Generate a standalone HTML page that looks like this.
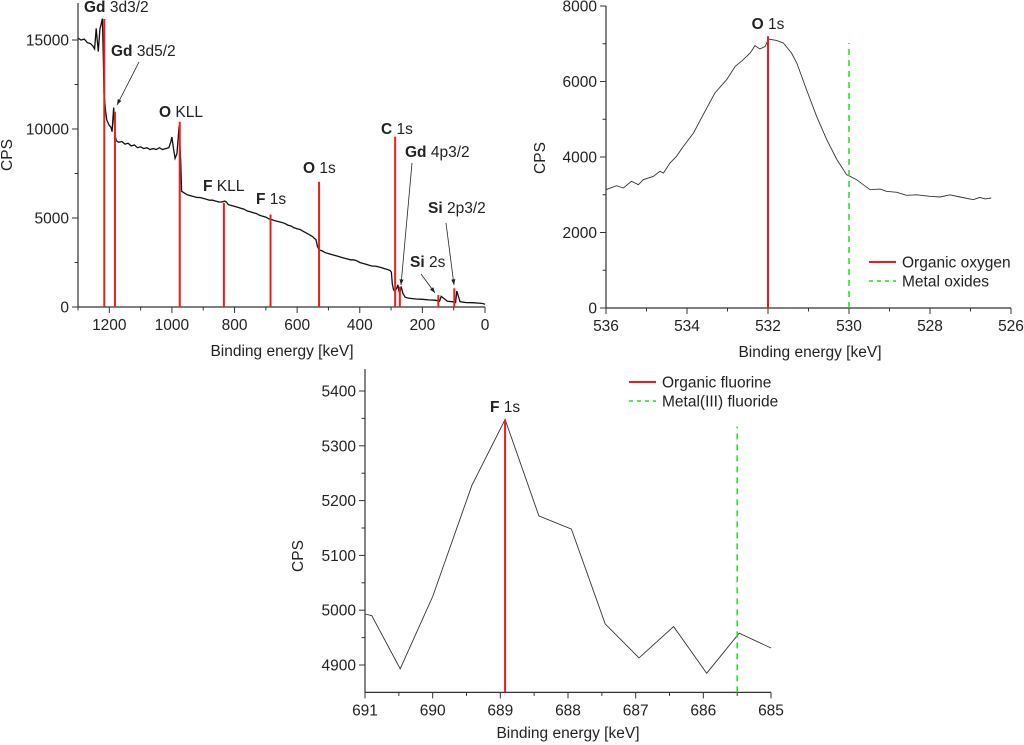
<!DOCTYPE html>
<html><head><meta charset="utf-8">
<style>
html,body{margin:0;padding:0;background:#fff;}
svg{display:block;font-family:"Liberation Sans",Arial,sans-serif;}
text{fill:#222;}
</style></head>
<body>
<svg id="fig" width="1024" height="745" viewBox="0 0 1024 745" xmlns="http://www.w3.org/2000/svg"></svg>
<script>
// ---------- Chart 1: survey spectrum ----------
const surveyBE = [1300,1290,1280,1270,1260,1252,1247,1242,1238,1235,1230,1226,1222,1219,1217,1212,1208,1200,1195,1191,1189,1186,1182,1178,1170,1160,1150,1140,1130,1120,1110,1100,1090,1080,1070,1060,1050,1040,1030,1020,1010,1004,1000,995,990,984,977,972,969,960,950,940,930,920,910,900,890,880,870,860,850,840,832,826,820,810,800,790,780,770,760,750,740,730,720,710,700,690,680,670,660,650,640,630,620,610,600,590,580,570,560,550,545,540,535,530,520,510,500,490,480,470,460,450,440,430,420,410,400,390,380,370,360,350,340,330,320,310,303,299,296,292,288,282,278,275,272,268,262,255,245,235,220,200,180,160,150,145,140,120,105,100,97,94,90,80,60,40,20,10,5,0];
const surveyCPS = [15100,15000,15050,14850,14800,14650,14500,15650,14900,14350,15600,15900,16200,13800,12000,11000,10500,10200,10100,9850,10500,11200,9700,9350,9250,9300,9150,9200,9050,9100,8950,9000,8900,8950,8850,8900,8850,8950,8850,8900,8950,9250,9550,8900,8350,8600,10150,8200,6500,6400,6300,6250,6200,6150,6150,6100,6050,6000,6000,5950,5900,5900,5950,5900,5750,5700,5650,5600,5550,5500,5400,5350,5300,5250,5150,5100,5050,4950,4900,4850,4800,4750,4700,4600,4550,4450,4400,4350,4250,4150,4050,3950,3850,3800,3400,3200,3150,3050,3000,2950,2900,2850,2800,2750,2700,2650,2650,2600,2500,2450,2400,2350,2300,2300,2250,2200,2150,2100,2050,1950,1300,950,900,1050,1250,900,750,1150,750,550,500,480,450,430,400,380,350,330,600,320,300,280,260,250,900,300,250,240,220,200,180,160,120,50];
const peakBE  = [1216,1182,975,834,685,530,287,272,149,98];
const peakCPS = [16180,10970,10410,5850,5200,7040,9570,1140,670,1050];
const peakEl  = ["Gd","Gd","O","F","F","O","C","Gd","Si","Si"];
const peakOrb = ["3d3/2","3d5/2","KLL","KLL","1s","1s","1s","4p3/2","2s","2p3/2"];
const surveyXTicks = [1200,1000,800,600,400,200,0];
const surveyYTicks = [0,5000,10000,15000];

// ---------- Chart 2: O 1s ----------
const oBE  = [536,535.74,535.57,535.37,535.2,535.08,534.83,534.67,534.58,534.42,534.26,534.09,533.84,533.6,533.31,533.02,532.81,532.61,532.44,532.32,532.2,532.07,531.99,531.79,531.62,531.42,531.29,531.05,530.8,530.55,530.3,530.06,529.81,529.65,529.48,529.23,529.07,528.82,528.58,528.33,528.0,527.75,527.51,527.26,526.93,526.77,526.64,526.49];
const oCPS = [3135,3240,3180,3355,3267,3400,3488,3620,3575,3840,4018,4282,4636,5120,5695,6050,6400,6580,6755,6950,6860,6930,7125,7090,7020,6755,6490,5785,5077,4460,3930,3530,3400,3267,3135,3150,3090,3064,2985,3000,2960,2940,3000,2940,2870,2930,2890,2915];
const oRef = {organic:[532,7200], metal:[530,7020]};
const oXTicks = [536,534,532,530,528,526];
const oYTicks = [0,2000,4000,6000,8000];

// ---------- Chart 3: F 1s ----------
const fBE  = [691,690.9,690.48,690,689.42,688.93,688.43,687.95,687.45,686.95,686.44,685.95,685.47,685];
const fCPS = [4993,4990,4893,5025,5228,5348,5172,5148,4975,4913,4970,4885,4958,4931];
const fRef = {organic:[688.93,5348], metal:[685.5,5335]};
const fXTicks = [691,690,689,688,687,686,685];
const fYTicks = [4900,5000,5100,5200,5300,5400];

const FS=15.5;
const NS="http://www.w3.org/2000/svg";
const svg=document.getElementById('fig');
function mk(tag,attrs,parent){const e=document.createElementNS(NS,tag);for(const k in attrs)e.setAttribute(k,attrs[k]);(parent||svg).appendChild(e);return e;}
function lin(d0,d1,r0,r1){return v=>r0+(v-d0)/(d1-d0)*(r1-r0);}

function axes(g,X,Y,x0,x1,y0,y1,xt,xminor,yt,yminor){
  const ax=mk('line',{x1:x0,y1:y0,x2:x0,y2:y1,stroke:'#333','stroke-width':1.2},g);
  
  const bx=mk('line',{x1:x0,y1:y0,x2:x1,y2:y0,stroke:'#333','stroke-width':1.2},g);
  
  xt.forEach(v=>{const x=X(v);mk('line',{x1:x,y1:y0,x2:x,y2:y0+6,stroke:'#333'},g);
    const t=mk('text',{x:x,y:y0+23,'text-anchor':'middle','font-size':FS},g);t.textContent=v;
    });
  xminor.forEach(v=>{const x=X(v);mk('line',{x1:x,y1:y0,x2:x,y2:y0+3.5,stroke:'#333'},g);});
  yt.forEach(v=>{const y=Y(v);mk('line',{x1:x0-6,y1:y,x2:x0,y2:y,stroke:'#333'},g);
    const t=mk('text',{x:x0-9,y:y+5.5,'text-anchor':'end','font-size':FS},g);t.textContent=v;
    });
  yminor.forEach(v=>{const y=Y(v);mk('line',{x1:x0-3.5,y1:y,x2:x0,y2:y,stroke:'#333'},g);});
}
function titles(g,cx,ty,lx,ly){
  const t=mk('text',{x:cx,y:ty,'text-anchor':'middle','font-size':FS},g);t.textContent='Binding energy [keV]';
  
  const c=mk('text',{x:lx,y:ly,'text-anchor':'middle','font-size':FS,transform:`rotate(-90 ${lx} ${ly})`},g);c.textContent='CPS';
  
}
function pathOf(xs,ys,X,Y){return xs.map((v,i)=>(i?'L':'M')+X(v).toFixed(1)+','+Y(ys[i]).toFixed(1)).join(' ');}
function label(g,x,y,el,orb,anchor){
  const t=mk('text',{x:x,y:y,'font-size':FS,'text-anchor':anchor||'start'},g);
  const b=mk('tspan',{'font-weight':'bold'},t);b.textContent=el;
  const r=mk('tspan',{},t);r.textContent=' '+orb;
  
}
function legend(g,x,y,items){
  items.forEach((it,i)=>{const yy=y+i*19;
    mk('line',{x1:x,y1:yy,x2:x+27,y2:yy,stroke:it.c,'stroke-width':it.d?1.5:2,'stroke-dasharray':it.d?'4,4':''},g);
    const t=mk('text',{x:x+33,y:yy+5.5,'font-size':FS},g);t.textContent=it.t;
    });
}

// Chart 1
(function(){
  const g=mk('g',{});
  const X=lin(1300,0,78,485), Y=lin(0,15000,307,40);
  axes(g,X,Y,78,485,307,3,surveyXTicks,[1300,1100,900,700,500,300,100],surveyYTicks,[2500,7500,12500]);
  titles(g,282,356,12,155);
  const p=mk('path',{d:pathOf(surveyBE,surveyCPS,X,Y),fill:'none',stroke:'#111','stroke-width':1.3},g);
  
  peakBE.forEach((b,i)=>{const l=mk('line',{x1:X(b),y1:Y(0),x2:X(b),y2:Y(peakCPS[i]),stroke:'#ee1c1c','stroke-width':2},g);
    });
  const lp=[[84,12],[111,56],[159,117],[203,191],[256,204],[303,173],[381,134],[405,157],[410,267],[428,213]];
  lp.forEach((p,i)=>label(g,p[0],p[1],peakEl[i],peakOrb[i]));
  const arr=[[139,62,117,105],[412,163,401,285],[421,274,435,293],[446,223,454,285]];
  arr.forEach(a=>{mk('line',{x1:a[0],y1:a[1],x2:a[2],y2:a[3],stroke:'#222','stroke-width':0.8},g);
    const ang=Math.atan2(a[3]-a[1],a[2]-a[0]);const s=6,w=0.35;
    mk('polygon',{points:`${a[2]},${a[3]} ${a[2]-s*Math.cos(ang-w)},${a[3]-s*Math.sin(ang-w)} ${a[2]-s*Math.cos(ang+w)},${a[3]-s*Math.sin(ang+w)}`,fill:'#222'},g);});
})();

// Chart 2
(function(){
  const g=mk('g',{});
  const X=lin(536,526,606,1011), Y=lin(0,8000,308,6);
  axes(g,X,Y,606,1011,308,6,oXTicks,[535,533,531,529,527],oYTicks,[1000,3000,5000,7000]);
  titles(g,810,357,545,158);
  const p=mk('path',{d:pathOf(oBE,oCPS,X,Y),fill:'none',stroke:'#333','stroke-width':0.9},g);
  
  const r=mk('line',{x1:X(oRef.organic[0]),y1:Y(0),x2:X(oRef.organic[0]),y2:Y(oRef.organic[1]),stroke:'#ee1c1c','stroke-width':2},g);
  
  const gr=mk('line',{x1:X(oRef.metal[0]),y1:Y(0),x2:X(oRef.metal[0]),y2:Y(oRef.metal[1]),stroke:'#22dd22','stroke-width':1.5,'stroke-dasharray':'6,5'},g);
  
  label(g,X(oRef.organic[0]),29,'O','1s','middle');
  legend(g,869,262,[{c:'#ee1c1c',t:'Organic oxygen'},{c:'#22dd22',t:'Metal oxides',d:1}]);
})();

// Chart 3
(function(){
  const g=mk('g',{});
  const X=lin(691,685,365,771), Y=lin(4900,5400,665,391);
  axes(g,X,Y,365,771,Y(4850),Y(5440),fXTicks,[690.5,689.5,688.5,687.5,686.5,685.5],fYTicks,[4950,5050,5150,5250,5350]);
  titles(g,568,738,303,556);
  const p=mk('path',{d:pathOf(fBE,fCPS,X,Y),fill:'none',stroke:'#333','stroke-width':0.9},g);
  
  const r=mk('line',{x1:X(fRef.organic[0]),y1:Y(4850),x2:X(fRef.organic[0]),y2:Y(fRef.organic[1]),stroke:'#ee1c1c','stroke-width':2},g);
  
  const gr=mk('line',{x1:X(fRef.metal[0]),y1:Y(4850),x2:X(fRef.metal[0]),y2:Y(fRef.metal[1]),stroke:'#22dd22','stroke-width':1.5,'stroke-dasharray':'6,5'},g);
  
  label(g,X(fRef.organic[0]),412,'F','1s','middle');
  legend(g,629,382,[{c:'#ee1c1c',t:'Organic fluorine'},{c:'#22dd22',t:'Metal(III) fluoride',d:1}]);
})();
</script>
</body></html>
